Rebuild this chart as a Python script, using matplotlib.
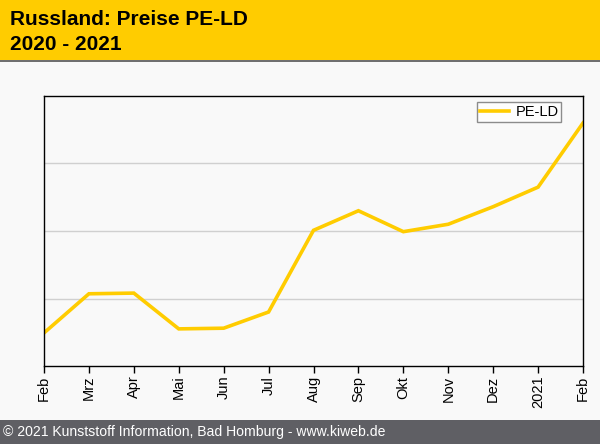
import matplotlib
matplotlib.use("Agg")
import matplotlib.pyplot as plt
from matplotlib.patches import Rectangle

plt.rcParams['font.family'] = ['Liberation Sans', 'DejaVu Sans']

# monthly price index (no scale shown on the chart)
months = ['Feb', 'Mrz', 'Apr', 'Mai', 'Jun', 'Jul', 'Aug', 'Sep', 'Okt', 'Nov', 'Dez', '2021', 'Feb']
pe_ld = [0.49, 1.07, 1.08, 0.55, 0.56, 0.80, 2.01, 2.30, 1.99, 2.10, 2.36, 2.65, 3.60]

title = 'Russland: Preise PE-LD\n2020 - 2021'
footer = '\u00a9 2021 Kunststoff Information, Bad Homburg - www.kiweb.de'

fig = plt.figure(figsize=(6, 4.44), dpi=100, facecolor='#f9f9f9')
W, H = 600, 444

# header band
fig.patches.append(Rectangle((0, 1 - 60 / H), 1, 60 / H, transform=fig.transFigure,
                             facecolor='#ffcc00', edgecolor='none', zorder=0))
fig.patches.append(Rectangle((0, 1 - 62 / H), 1, 2 / H, transform=fig.transFigure,
                             facecolor='#707070', edgecolor='none', zorder=0))
fig.text(10 / W, 1 - 32 / H, title, fontsize=15, fontweight='bold', color='black',
         ha='left', va='center', linespacing=1.45)

# footer band
fig.patches.append(Rectangle((0, 0), 1, 24 / H, transform=fig.transFigure,
                             facecolor='#5f5f64', edgecolor='none', zorder=0))
fig.text(3 / W, 12 / H, footer, fontsize=10.1, color='white', ha='left', va='center')

ax = fig.add_axes([44 / W, 1 - 366 / H, (583 - 44) / W, (366 - 96) / H])
ax.set_facecolor('#f9f9f9')
x = list(range(len(months)))
ax.plot(x, pe_ld, color='#ffcc00', lw=2.6, label='PE-LD', solid_joinstyle='miter')
ax.set_xlim(0, len(months) - 1)
ax.set_ylim(0, 4)
ax.set_yticks([1, 2, 3])
ax.set_yticklabels([])
ax.tick_params(axis='y', length=0)
ax.grid(axis='y', color='#d0d0d0', lw=1)
ax.set_xticks(x)
ax.set_xticklabels(months, rotation=90, fontsize=10.5)
ax.tick_params(axis='x', length=5, width=1, color='black', pad=2)
for s in ax.spines.values():
    s.set_linewidth(1)
    s.set_color('black')

leg = ax.legend(loc='upper right', fontsize=10.5, frameon=True, fancybox=False,
                handlelength=2.0, borderpad=0.2, handletextpad=0.45,
                bbox_to_anchor=(0.96, 0.978), borderaxespad=0)
leg.get_frame().set_edgecolor('#707070')
leg.get_frame().set_facecolor('white')
leg.get_frame().set_linewidth(1)

fig.savefig('out.png', dpi=100, facecolor=fig.get_facecolor())
